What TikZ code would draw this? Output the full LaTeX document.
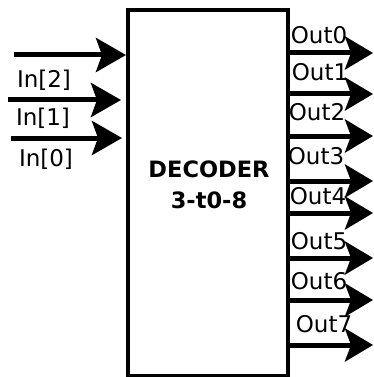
\documentclass[tikz,border=0pt]{standalone}
\usepackage{fontspec}
\setmainfont{DejaVu Sans}
\usetikzlibrary{arrows.meta}
\begin{document}
\begin{tikzpicture}[x=1pt,y=-1pt,
  sig/.style={font=\fontsize{23}{23}\selectfont, inner sep=0pt, anchor=center},
  wire/.style={line width=5pt, -{Stealth[length=30pt,width=34pt,inset=6pt]}},
  owire/.style={line width=5pt, -{Stealth[length=28pt,width=33pt,inset=6pt]}}]
\useasboundingbox (0,0) rectangle (373,377);
% decoder block
\draw[line width=3.5pt] (128,10) rectangle (288,376);
\node[font=\bfseries\fontsize{22.5}{31}\selectfont, align=center] (dec) at (209,185) {DECODER\\3-t0-8};
% inputs
\coordinate (i2s) at (14,55);  \coordinate (i2e) at (126,55);
\coordinate (i1s) at (8,100);  \coordinate (i1e) at (121,100);
\coordinate (i0s) at (11,138); \coordinate (i0e) at (122,138);
\draw[wire] (i2s) -- (i2e);
\draw[wire] (i1s) -- (i1e);
\draw[wire] (i0s) -- (i0e);
\node[sig] (in2) at (44,80) {In[2]};
\node[sig] (in1) at (43,118) {In[1]};
\node[sig] (in0) at (46,159) {In[0]};
% outputs
\foreach \k/\ay/\lx/\ly in {0/53/319/35, 1/94/320/72, 2/136/317/112, 3/181/316/156,
                            4/213/318/196, 5/258/319/241, 6/300/319/281, 7/345/324/324}{
  \coordinate (o\k s) at (288,\ay);
  \coordinate (o\k e) at (373,\ay);
  \draw[owire] (o\k s) -- (o\k e);
  \node[sig] (out\k) at (\lx,\ly) {Out\k};
}
\end{tikzpicture}
\end{document}
